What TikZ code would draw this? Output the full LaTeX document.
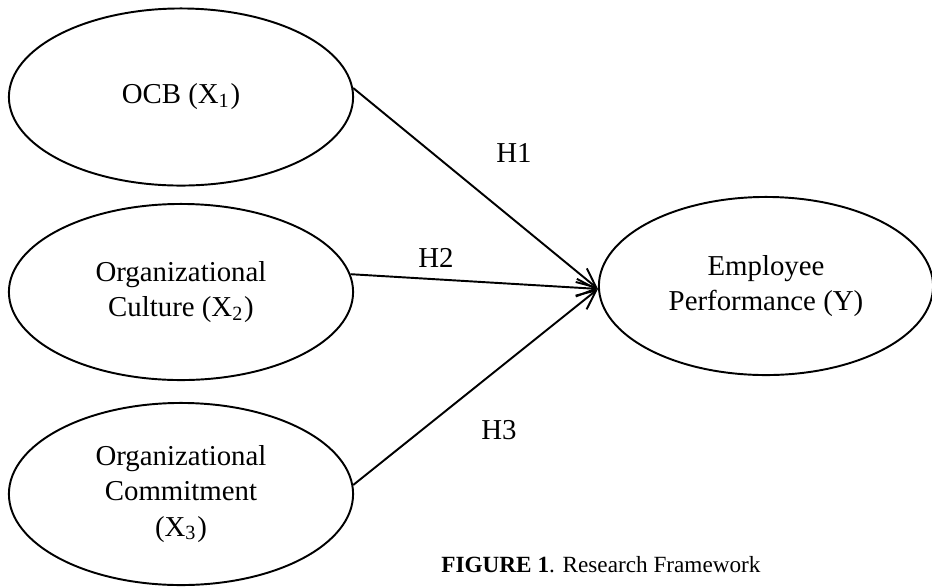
\documentclass[tikz,border=0pt]{standalone}
\usepackage{fontspec}
\setmainfont{Liberation Serif}
\usetikzlibrary{arrows.meta, shapes.geometric}

\begin{document}
\begin{tikzpicture}[x=0.01cm, y=-0.01cm,
    construct/.style={ellipse, draw=black, line width=0.55pt, align=center, inner sep=0pt,
        minimum width=3.44cm, font=\fontsize{8.2}{10}\selectfont},
    hyp/.style={-{Straight Barb[length=5.5pt, width=5pt]}, black, line width=0.55pt},
    hyplabel/.style={font=\fontsize{8.2}{10}\selectfont}]

    \useasboundingbox (0,0) rectangle (932,587);

    % === Independent variables ===
    \node[construct, minimum height=1.77cm] (ocb) at (181,97) {OCB (X\textsubscript{1})};
    \node[construct, minimum height=1.76cm] (culture) at (181,292) {Organizational\\Culture (X\textsubscript{2})};
    \node[construct, minimum height=1.82cm] (commit) at (181,494) {Organizational\\Commitment\\(X\textsubscript{3})};

    % === Dependent variable ===
    \node[construct, minimum width=3.34cm, minimum height=1.78cm] (perf) at (766,286) {Employee\\Performance (Y)};

    % === Hypothesis arrows ===
    \draw[hyp] (ocb.3) -- (perf.181);
    \draw[hyp] (culture.6) -- (perf.181);
    \draw[hyp] (commit.3) -- (perf.181);

    % Labels for the hypotheses
    \node[hyplabel] (h1) at (514,153) {H1};
    \node[hyplabel] (h2) at (436,258) {H2};
    \node[hyplabel] (h3) at (499,430) {H3};

    % === Caption ===
    \node[anchor=base, font=\fontsize{6.6}{8}\selectfont] (caption) at (601,572) {\textbf{FIGURE 1}. Research Framework};

\end{tikzpicture}
\end{document}
